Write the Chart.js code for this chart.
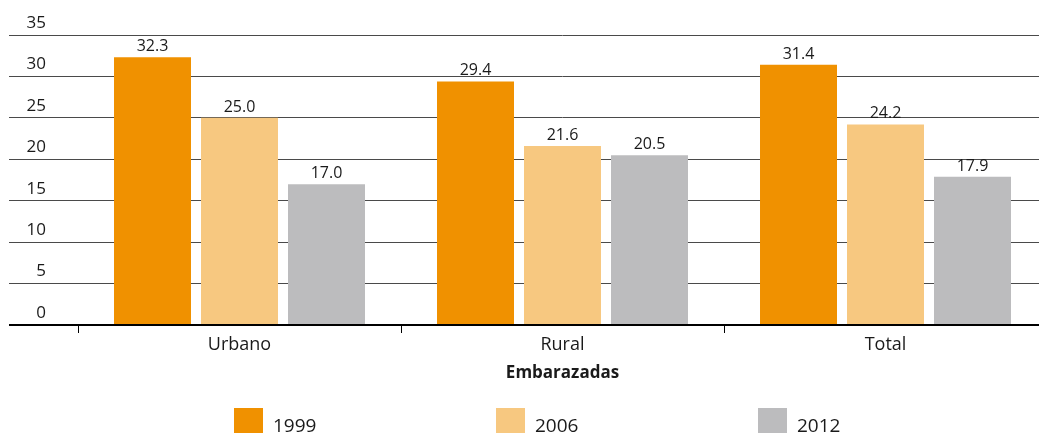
<!DOCTYPE html>
<html>
<head>
<meta charset="utf-8">
<script src="https://cdn.jsdelivr.net/npm/chart.js@4"></script>
<style>
  html, body { margin: 0; padding: 0; background: #fff; overflow: hidden; }
  #wrap { width: 1039px; height: 434px; overflow: hidden; position: relative; }
  canvas { display: block; }
</style>
</head>
<body>
<div id="wrap"><canvas id="c" width="1060" height="434"></canvas></div>
<script>
const categories = ['Urbano', 'Rural', 'Total'];
const seriesLabels = ['1999', '2006', '2012'];
const values1999 = [32.3, 29.4, 31.4];
const values2006 = [25.0, 21.6, 24.2];
const values2012 = [17.0, 20.5, 17.9];
const seriesColors = ['#F09100', '#F7C880', '#BCBCBE'];
const axisTitle = 'Embarazadas';
const yMin = 0, yMax = 35, yStep = 5;

const FONT = "'Open Sans', 'Noto Sans', sans-serif";
const TEXT = '#1a1a1a';

const valueLabels = {
  id: 'valueLabels',
  afterDatasetsDraw(chart) {
    const ctx = chart.ctx;
    ctx.save();
    ctx.font = '16px ' + FONT;
    ctx.fillStyle = TEXT;
    ctx.textAlign = 'center';
    ctx.textBaseline = 'alphabetic';
    chart.data.datasets.forEach((ds, i) => {
      chart.getDatasetMeta(i).data.forEach((el, j) => {
        ctx.fillText(ds.data[j].toFixed(1), el.x, el.y - 6);
      });
    });
    ctx.restore();
  }
};

const bottomLegend = {
  id: 'bottomLegend',
  afterDraw(chart) {
    const ctx = chart.ctx;
    ctx.save();
    ctx.font = '19px ' + FONT;
    ctx.textBaseline = 'alphabetic';
    ctx.textAlign = 'left';
    const startX = 234, step = 262, boxW = 29, boxH = 25, boxY = 408;
    chart.data.datasets.forEach((ds, i) => {
      const x = startX + i * step;
      ctx.fillStyle = ds.backgroundColor;
      ctx.fillRect(x, boxY, boxW, boxH);
      ctx.fillStyle = TEXT;
      ctx.fillText(ds.label, x + boxW + 10, 432);
    });
    ctx.restore();
  }
};

const datasets = [values1999, values2006, values2012].map((vals, i) => ({
  label: seriesLabels[i],
  data: vals,
  backgroundColor: seriesColors[i],
  borderWidth: 0,
  categoryPercentage: 0.808,
  barPercentage: 0.885
}));

new Chart(document.getElementById('c'), {
  type: 'bar',
  data: { labels: categories, datasets },
  options: {
    responsive: false,
    animation: false,
    devicePixelRatio: 1,
    layout: { padding: { left: 9, top: 35, right: 13, bottom: 49 } },
    plugins: {
      legend: { display: false },
      tooltip: { enabled: false },
      title: { display: false }
    },
    scales: {
      x: {
        offset: true,
        border: { display: false },
        grid: {
          offset: true,
          drawOnChartArea: false,
          drawTicks: true,
          tickLength: 8,
          color: '#000',
          lineWidth: 1
        },
        ticks: {
          color: TEXT,
          font: { family: FONT, size: 18 },
          padding: 1,
          maxRotation: 0
        },
        title: {
          display: true,
          text: axisTitle,
          color: TEXT,
          font: { family: FONT, size: 17, weight: 'bold' },
          padding: { top: 0, bottom: 2 }
        },
        afterFit(scale) { scale.height = 60; }
      },
      y: {
        min: yMin,
        max: yMax,
        border: { display: false },
        grid: {
          drawTicks: true,
          tickLength: 69,
          color: (c) => (c.tick && c.tick.value === 0) ? '#000' : '#4a4a4a',
          lineWidth: (c) => (c.tick && c.tick.value === 0) ? 2 : 1
        },
        ticks: {
          stepSize: yStep,
          color: TEXT,
          font: { family: FONT, size: 17 },
          padding: -37,
          labelOffset: -12
        },
        afterFit(scale) { scale.width = 69; }
      }
    }
  },
  plugins: [valueLabels, bottomLegend]
});
</script>
</body>
</html>
